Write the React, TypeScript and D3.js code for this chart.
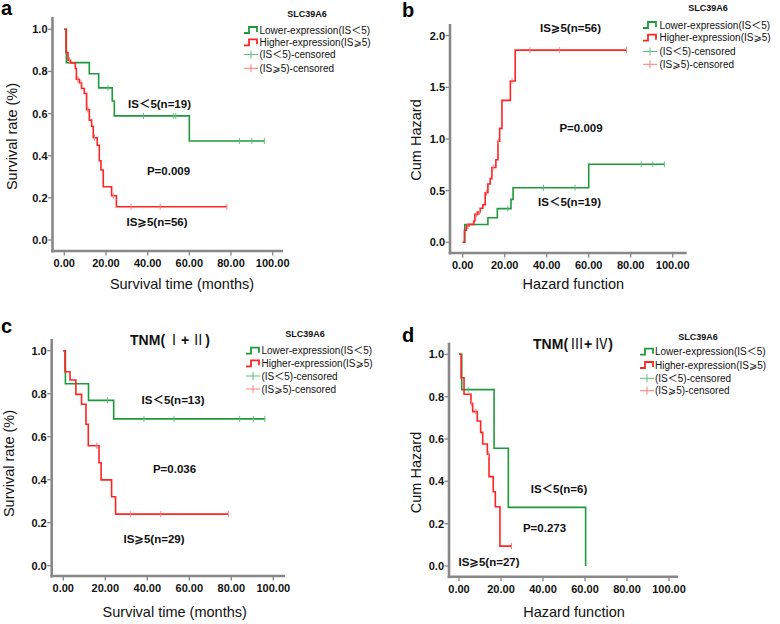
import React from "react";
import * as d3 from "d3";

// ---------- DATA ----------
// Panel a: survival (overall)
const aLowTimes = [0, 1, 12, 16.5, 23, 24, 60, 96];
const aLowVals = [1, 0.842, 0.789, 0.722, 0.66, 0.589, 0.47, 0.47];
const aLowCens = [21, 38, 52.5, 53.5, 84, 90, 96];
const aHighTimes = [0, 0.8, 1.8, 3, 5.3, 5.8, 7.2, 8.3, 9.6, 10.7, 12, 13.1, 13.9, 15.8, 16.8, 17.6, 18.7, 22.7, 25, 78];
const aHighVals = [1, 0.89, 0.853, 0.84, 0.814, 0.763, 0.746, 0.719, 0.695, 0.619, 0.569, 0.54, 0.485, 0.45, 0.376, 0.332, 0.253, 0.21, 0.158, 0.158];
const aHighCens = [2.5, 6.5, 8, 11.3, 14.5, 23.5, 32, 46, 78];

// Panel b: cumulative hazard (overall)
const bLowTimes = [0, 1, 12, 16.5, 23, 24, 60, 96];
const bLowVals = [0, 0.172, 0.237, 0.326, 0.416, 0.528, 0.755, 0.755];
const bLowCens = [21.5, 38.5, 53.5, 85, 90.5, 96];
const bHighTimes = [0, 0.8, 1.8, 3, 5.3, 5.8, 7.2, 8.3, 9.6, 10.7, 12, 13.1, 13.9, 15.8, 16.8, 17.6, 18.7, 22.7, 25, 78];
const bHighVals = [0, 0.117, 0.159, 0.174, 0.206, 0.27, 0.293, 0.33, 0.364, 0.48, 0.564, 0.616, 0.724, 0.799, 0.978, 1.103, 1.374, 1.561, 1.86, 1.86];
const bHighCens = [2.5, 6.5, 8, 11.3, 14.5, 17, 23.5, 32, 46, 78];

// Panel c: TNM(I+II)
const cLowTimes = [0, 1, 12, 24, 96];
const cLowVals = [1, 0.846, 0.769, 0.683, 0.683];
const cLowCens = [21, 38.4, 52.7, 84, 90.5, 96];
const cHighTimes = [0, 0.8, 3.2, 6, 8.7, 10.8, 11.9, 17, 18, 23, 24.9, 78.6];
const cHighVals = [1, 0.902, 0.864, 0.797, 0.751, 0.658, 0.558, 0.479, 0.399, 0.321, 0.24, 0.24];
const cHighCens = [15.9, 32.1, 46.4, 78.6];

// Panel d: TNM(III+IV)
const dLowTimes = [0, 1.3, 16.7, 23.5, 60.3];
const dLowVals = [1, 0.833, 0.556, 0.277, 0];
const dLowCens = [4.4];
const dHighTimes = [0, 1, 2.4, 5.7, 6.5, 8.7, 10.3, 11.3, 13.5, 14.3, 16.3, 17.3, 19.5, 25];
const dHighVals = [1, 0.889, 0.811, 0.768, 0.729, 0.685, 0.631, 0.576, 0.528, 0.422, 0.351, 0.28, 0.094, 0.094];
const dHighCens = [6, 8, 14, 25];

const xTicks = [0, 20, 40, 60, 80, 100];
const ySurvTicks = [0, 0.2, 0.4, 0.6, 0.8, 1.0];
const yHazTicks = [0, 0.5, 1.0, 1.5, 2.0];

const legendLabels = [
  "Lower-expression(IS＜5)",
  "Higher-expression(IS⩾5)",
  "(IS＜5)-censored",
  "(IS⩾5)-censored",
];
const geneName = "SLC39A6";

// ---------- STYLE ----------
const GREEN = "#1e9a3c";
const RED = "#ff2424";
const GREEN_C = "#5fbf7c";
const RED_C = "#ff7c7c";
const AXIS = "#888888";
const FONT = "'Liberation Sans', Arial, 'DejaVu Sans', 'Noto Sans CJK SC', sans-serif";
const CJK = "'Noto Sans CJK SC', 'Noto Sans CJK JP', sans-serif";

type Series = { t: number[]; v: number[]; cens: number[]; color: string; cColor: string };
type Note = { text: string; x: number; y: number };
type PanelCfg = {
  letter: string; lx: number; ly: number;
  x0: number; x1: number; yBot: number; yTop: number; yMax: number;
  axisX: number; axisY: number; axisTop: number; axisRight: number;
  yTicks: number[]; yFmt: string;
  yTitle: string; yTitleX: number; yTitleY: number;
  xTitle: string; xTitleX: number; xTitleY: number;
  series: Series[];
  notes: Note[];
  title?: Note;
  legX: number; legTextX: number; legRows: number[]; geneX: number; geneY: number;
};

function valueAt(t: number[], v: number[], x: number) {
  let val = v[0];
  for (let i = 0; i < t.length; i++) if (t[i] <= x) val = v[i];
  return val;
}

function titleParts(s: string) {
  return Array.from(s).map((ch, i) => {
    const c = ch.codePointAt(0) || 0;
    const roman = c >= 0x2160 && c <= 0x217f;
    return roman ? (
      <tspan key={i} fontFamily={CJK} fontWeight="normal" dx={2}>
        {ch}
      </tspan>
    ) : (
      <tspan key={i}>{ch}</tspan>
    );
  });
}

function Panel({ p }: { p: PanelCfg }) {
  const xs = d3.scaleLinear().domain([0, 100]).range([p.x0, p.x1]);
  const ys = d3.scaleLinear().domain([0, p.yMax]).range([p.yBot, p.yTop]);
  const line = d3
    .line<[number, number]>()
    .x((d) => xs(d[0]))
    .y((d) => ys(d[1]))
    .curve(d3.curveStepAfter);
  const yf = d3.format(p.yFmt);
  const xf = d3.format(".2f");
  return (
    <g>
      <text x={p.lx} y={p.ly} fontFamily={FONT} fontWeight="bold" fontSize={20} fill="#000">
        {p.letter}
      </text>
      {/* axes */}
      <line x1={p.axisX} x2={p.axisX} y1={p.axisTop} y2={p.axisY + 1.5} stroke={AXIS} strokeWidth={2.6} />
      <line x1={p.axisX - 1.3} x2={p.axisRight} y1={p.axisY} y2={p.axisY} stroke={AXIS} strokeWidth={2.6} />
      {p.yTicks.map((t) => (
        <g key={"y" + t}>
          <line x1={p.axisX - 4.5} x2={p.axisX} y1={ys(t)} y2={ys(t)} stroke={AXIS} strokeWidth={1.3} />
          <text
            x={p.axisX - 5}
            y={ys(t)}
            dy="0.36em"
            textAnchor="end"
            fontFamily={FONT}
            fontWeight="bold"
            fontSize={11}
            fill="#111"
          >
            {yf(t)}
          </text>
        </g>
      ))}
      {xTicks.map((t) => (
        <g key={"x" + t}>
          <line x1={xs(t)} x2={xs(t)} y1={p.axisY} y2={p.axisY + 4.5} stroke={AXIS} strokeWidth={1.3} />
          <text
            x={xs(t)}
            y={p.axisY + 16}
            textAnchor="middle"
            fontFamily={FONT}
            fontWeight="bold"
            fontSize={11}
            fill="#111"
          >
            {xf(t)}
          </text>
        </g>
      ))}
      <text
        transform={`translate(${p.yTitleX},${p.yTitleY}) rotate(-90)`}
        textAnchor="middle"
        fontFamily={FONT}
        fontSize={14.5}
        fill="#111"
      >
        {p.yTitle}
      </text>
      <text x={p.xTitleX} y={p.xTitleY} textAnchor="middle" fontFamily={FONT} fontSize={14.5} fill="#111">
        {p.xTitle}
      </text>
      {/* curves */}
      {p.series.map((s, i) => {
        const pts = s.t.map((t, j) => [t, s.v[j]] as [number, number]);
        return (
          <g key={"s" + i}>
            <path d={line(pts) || ""} fill="none" stroke={s.color} strokeWidth={1.6} />
            {s.cens.map((c, k) => {
              const cx = xs(c);
              const cy = ys(valueAt(s.t, s.v, c));
              return (
                <line key={k} x1={cx} x2={cx} y1={cy - 3} y2={cy + 3} stroke={s.cColor} strokeWidth={1} />
              );
            })}
          </g>
        );
      })}
      {/* notes */}
      {p.notes.map((n, i) => (
        <text
          key={"n" + i}
          x={n.x}
          y={n.y}
          textAnchor="middle"
          fontFamily={FONT}
          fontWeight="bold"
          fontSize={11.5}
          fill="#111"
        >
          {n.text}
        </text>
      ))}
      {p.title && (
        <text
          x={p.title.x}
          y={p.title.y}
          textAnchor="middle"
          fontFamily={FONT}
          fontWeight="bold"
          fontSize={14}
          fill="#111"
        >
          {titleParts(p.title.text)}
        </text>
      )}
      {/* legend */}
      <text x={p.geneX} y={p.geneY} textAnchor="middle" fontFamily={FONT} fontWeight="bold" fontSize={9} fill="#111">
        {geneName}
      </text>
      {legendLabels.map((lab, i) => {
        const cy = p.legRows[i];
        const x0 = p.legX;
        const col = i === 0 ? GREEN : i === 1 ? RED : i === 2 ? GREEN_C : RED_C;
        return (
          <g key={"l" + i}>
            {i < 2 ? (
              <path
                d={`M${x0},${cy + 3}H${x0 + 5}V${cy - 3}H${x0 + 13}V${cy + 2}`}
                fill="none"
                stroke={col}
                strokeWidth={1.8}
              />
            ) : (
              <g>
                <line x1={x0} x2={x0 + 14} y1={cy} y2={cy} stroke={col} strokeWidth={1} />
                <line x1={x0 + 7} x2={x0 + 7} y1={cy - 4} y2={cy + 4} stroke={col} strokeWidth={1} />
              </g>
            )}
            <text x={p.legTextX} y={cy} dy="0.36em" fontFamily={FONT} fontSize={10} fill="#111">
              {lab}
            </text>
          </g>
        );
      })}
    </g>
  );
}

export default function App() {
  const panels: PanelCfg[] = [
    {
      letter: "a", lx: 1, ly: 15,
      x0: 64.3, x1: 272.7, yBot: 240, yTop: 29.3, yMax: 1,
      axisX: 52.5, axisY: 251, axisTop: 17, axisRight: 283,
      yTicks: ySurvTicks, yFmt: ".1f",
      yTitle: "Survival rate (%)", yTitleX: 17, yTitleY: 136.5,
      xTitle: "Survival time (months)", xTitleX: 182, xTitleY: 289,
      series: [
        { t: aLowTimes, v: aLowVals, cens: aLowCens, color: GREEN, cColor: GREEN_C },
        { t: aHighTimes, v: aHighVals, cens: aHighCens, color: RED, cColor: RED_C },
      ],
      notes: [
        { text: "IS＜5(n=19)", x: 159.5, y: 108 },
        { text: "P=0.009", x: 168.5, y: 175 },
        { text: "IS⩾5(n=56)", x: 157, y: 226 },
      ],
      legX: 244, legTextX: 259.5, legRows: [30, 42.3, 54.5, 68.3], geneX: 307, geneY: 16.5,
    },
    {
      letter: "b", lx: 402, ly: 17,
      x0: 462.7, x1: 672.7, yBot: 242.3, yTop: 35.7, yMax: 2,
      axisX: 450, axisY: 253, axisTop: 24, axisRight: 686.7,
      yTicks: yHazTicks, yFmt: ".1f",
      yTitle: "Cum Hazard", yTitleX: 421, yTitleY: 140,
      xTitle: "Hazard function", xTitleX: 573.3, xTitleY: 289,
      series: [
        { t: bLowTimes, v: bLowVals, cens: bLowCens, color: GREEN, cColor: GREEN_C },
        { t: bHighTimes, v: bHighVals, cens: bHighCens, color: RED, cColor: RED_C },
      ],
      notes: [
        { text: "IS⩾5(n=56)", x: 570.5, y: 32 },
        { text: "P=0.009", x: 581, y: 132 },
        { text: "IS＜5(n=19)", x: 569.5, y: 206 },
      ],
      legX: 643, legTextX: 659.5, legRows: [25, 37.7, 51.5, 64.3], geneX: 708, geneY: 10.5,
    },
    {
      letter: "c", lx: 1, ly: 333,
      x0: 63.3, x1: 273.3, yBot: 565.7, yTop: 350.7, yMax: 1,
      axisX: 51.7, axisY: 576, axisTop: 339, axisRight: 285,
      yTicks: ySurvTicks, yFmt: ".1f",
      yTitle: "Survival rate (%)", yTitleX: 14, yTitleY: 463.5,
      xTitle: "Survival time (months)", xTitleX: 174.7, xTitleY: 617,
      series: [
        { t: cLowTimes, v: cLowVals, cens: cLowCens, color: GREEN, cColor: GREEN_C },
        { t: cHighTimes, v: cHighVals, cens: cHighCens, color: RED, cColor: RED_C },
      ],
      notes: [
        { text: "IS＜5(n=13)", x: 173, y: 404 },
        { text: "P=0.036", x: 174.5, y: 473 },
        { text: "IS⩾5(n=29)", x: 154, y: 543 },
      ],
      title: { text: "TNM(Ⅰ+Ⅱ)", x: 170, y: 345 },
      legX: 246, legTextX: 261.5, legRows: [350.7, 363.3, 376, 389], geneX: 305, geneY: 337,
    },
    {
      letter: "d", lx: 402, ly: 341.7,
      x0: 459, x1: 669, yBot: 566, yTop: 354.3, yMax: 1,
      axisX: 449, axisY: 576.7, axisTop: 342.7, axisRight: 678,
      yTicks: ySurvTicks, yFmt: ".1f",
      yTitle: "Cum Hazard", yTitleX: 421, yTitleY: 472.5,
      xTitle: "Hazard function", xTitleX: 574, xTitleY: 617,
      series: [
        { t: dLowTimes, v: dLowVals, cens: dLowCens, color: GREEN, cColor: GREEN_C },
        { t: dHighTimes, v: dHighVals, cens: dHighCens, color: RED, cColor: RED_C },
      ],
      notes: [
        { text: "IS＜5(n=6)", x: 559, y: 493 },
        { text: "P=0.273", x: 544.5, y: 532 },
        { text: "IS⩾5(n=27)", x: 489, y: 566 },
      ],
      title: { text: "TNM(Ⅲ+Ⅳ)", x: 573, y: 349 },
      legX: 640, legTextX: 655, legRows: [351.7, 365, 378.3, 390.7], geneX: 698, geneY: 340,
    },
  ];
  return (
    <svg
      width={780}
      height={624}
      viewBox="0 0 780 624"
      style={{ position: "absolute", left: 0, top: 0, background: "#fff" }}
    >
      <rect width={780} height={624} fill="#fff" />
      {panels.map((p) => (
        <Panel key={p.letter} p={p} />
      ))}
    </svg>
  );
}
